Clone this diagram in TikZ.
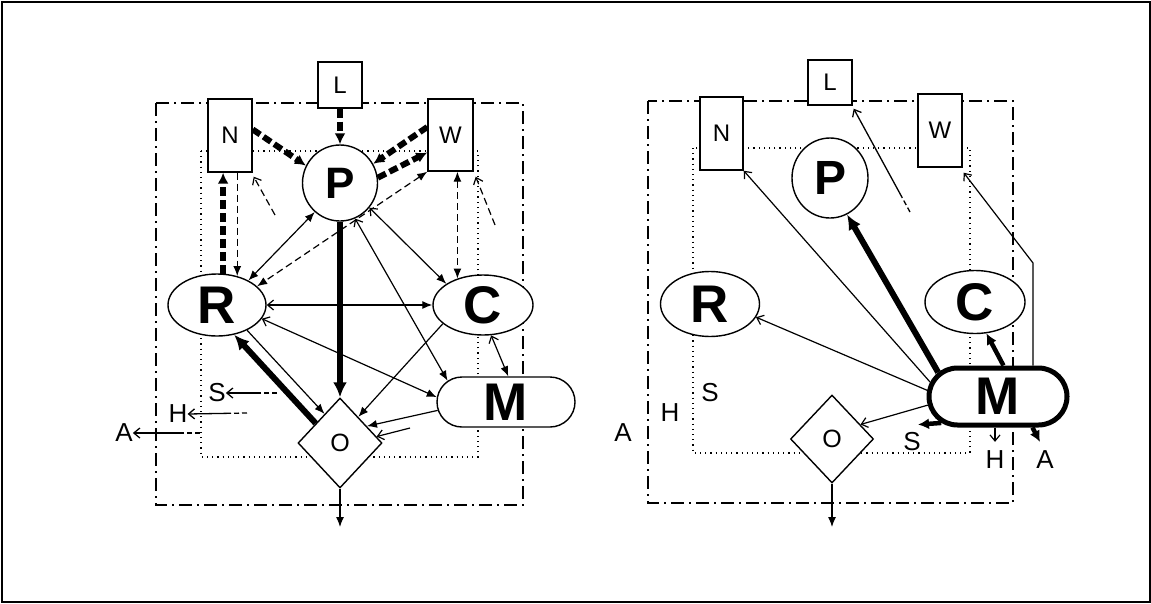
\documentclass[tikz,border=0pt]{standalone}
\usepackage{fontspec}
\setmainfont{Liberation Sans}
\usetikzlibrary{arrows.meta,shapes.geometric,shapes.misc,calc}
\tikzset{
  Fil/.tip={Latex[length=10pt,width=8pt]},
  Opn/.tip={Straight Barb[length=6pt,width=10pt]},
  Big/.tip={Latex[length=15pt,width=14pt]},
  Mid/.tip={Latex[length=11pt,width=11pt]},
  lbl/.style={inner sep=0pt, font=\fontsize{26}{26}\selectfont},
  rectbox/.style={draw, fill=white, line width=1.4pt, inner sep=0pt, font=\fontsize{24}{24}\selectfont},
  bigell/.style={draw, ellipse, fill=white, line width=1.4pt, inner sep=0pt, font=\bfseries\fontsize{53}{53}\selectfont},
  pill/.style={draw, rounded rectangle, fill=white, line width=1.4pt, inner sep=0pt, font=\bfseries\fontsize{53}{53}\selectfont},
  dmd/.style={draw, diamond, fill=white, line width=1.4pt, inner sep=0pt, font=\fontsize{25}{25}\selectfont},
  dashdot/.style={line width=1.3pt, dash pattern=on 13pt off 5pt on 2pt off 5pt},
  dotln/.style={line width=1.2pt, dash pattern=on 1.2pt off 4pt},
  fine/.style={line width=1.2pt},
  fdash/.style={line width=1.2pt, dash pattern=on 7pt off 4pt},
  heavy/.style={line width=6pt},
  hdash/.style={line width=6pt, dash pattern=on 9pt off 4pt},
  lead/.style={line width=1.3pt, dash pattern=on 5pt off 3pt on 5pt off 3pt on 200pt}
}
\begin{document}
\begin{tikzpicture}[x=1pt,y=-1pt]
\useasboundingbox (0,0) rectangle (1151,603);
\fill[white] (0,0) rectangle (1151,603);
\draw[line width=2pt] (1.5,1.5) rectangle (1149.5,601.5);

% ================= LEFT DIAGRAM =================
\draw[dashdot] (156,103) rectangle (523,505);
\draw[dotln] (201,151) rectangle (478,457);

\node[rectbox, minimum width=44pt, minimum height=46pt] (L1) at (340,85) {L};
\node[rectbox, minimum width=44pt, minimum height=73pt] (N1) at (230,135.5) {N};
\node[rectbox, minimum width=45pt, minimum height=72pt] (W1) at (450.5,135) {W};
\node[bigell, minimum width=75pt, minimum height=76pt, font=\bfseries\fontsize{44}{44}\selectfont] (P1) at (340,183) {P};
\node[bigell, minimum width=98pt, minimum height=62pt] (R1) at (217,305) {R};
\node[bigell, minimum width=100pt, minimum height=60pt] (C1) at (483,305) {C};
\node[pill, minimum width=138pt, minimum height=50pt] (M1) at (506,402) {M};
\node[dmd, minimum width=84pt, minimum height=90pt] (O1) at (340,443) {O};

\node[lbl] (S1) at (217,393) {S};
\node[lbl] (H1) at (178,414) {H};
\node[lbl] (A1) at (124,433) {A};

\coordinate (out1) at (340,527);
\coordinate (nfree) at (275,215);
\coordinate (wfree) at (495,225);
\coordinate (ofree) at (410,428);
\coordinate (sfrom) at (277,393);
\coordinate (hfrom) at (247,413);
\coordinate (afrom) at (200,433);

% heavy dashed
\draw[hdash,-Mid] (L1.south) -- (P1.north);
\draw[hdash,-Mid] (N1.15) -- (P1.153);
\draw[hdash,-Mid] (W1.161) -- (P1.30);
\draw[hdash,-Mid] (P1.8) -- (W1.217);
\draw[hdash,-Mid] (R1.79) -- (R1.79 |- N1.south);
% thin dashed
\draw[fdash,-Fil] (N1.south -| R1.55) -- (R1.55);
\draw[fdash,-Opn] (nfree) -- ([shift={(1,4)}]N1.south east);
\draw[fdash,-Opn] (wfree) -- ([shift={(2,5)}]W1.south east);
\draw[fdash,Fil-Fil] (W1.south west) -- (R1.25);
\draw[fdash,Fil-Fil] (C1.134 |- W1.south) -- (C1.134);
% thin solid
\draw[fine,Fil-Fil] (P1.229) -- (R1.38);
\draw[fine,Opn-Fil] (P1.-40) -- (C1.150);
\draw[fine,Opn-Fil] (P1.-67) -- (M1.160);
\draw[fine,Opn-Fil] (R1.east) -- (C1.west);
\draw[fine,Opn-Fil] (R1.-17) -- (M1.176);
\draw[fine,-Fil] (C1.205) -- (O1.55);
\draw[fine,-Fil] (M1.187) -- (O1.32);
\draw[fine,-Opn] (ofree) -- (O1.10);
\draw[fine,-Fil] (R1.-40) -- (O1.118);
\draw[fine,Opn-Fil] (C1.-75) -- (M1.85);
\draw[fine,-Fil] (O1.south) -- (out1);
% heavy solid
\draw[heavy,-Big] (P1.south) -- (O1.north);
\draw[heavy,-Big] (O1.141) -- (R1.-60);
% S H A leads
\draw[lead,-Opn] (sfrom) -- (S1.east);
\draw[lead,-Opn] (hfrom) -- (H1.east);
\draw[lead,-Opn] (afrom) -- (A1.east);

% ================= RIGHT DIAGRAM =================
\draw[dashdot] (648,101) rectangle (1013,503);
\draw[dotln] (693,148) rectangle (970,453);

\node[rectbox, minimum width=44pt, minimum height=45pt] (L2) at (830,82.5) {L};
\node[rectbox, minimum width=43pt, minimum height=73pt] (N2) at (721.5,133.5) {N};
\node[rectbox, minimum width=44pt, minimum height=73pt] (W2) at (940,130.5) {W};
\node[bigell, minimum width=76pt, minimum height=80pt, font=\bfseries\fontsize{48}{48}\selectfont] (P2) at (830,178) {P};
\node[bigell, minimum width=99pt, minimum height=65pt] (R2) at (710,304) {R};
\node[bigell, minimum width=100pt, minimum height=63pt] (C2) at (975,302) {C};
\node[pill, minimum width=138pt, minimum height=57pt, line width=5pt] (M2) at (998,396.5) {M};
\node[dmd, minimum width=83pt, minimum height=88pt] (O2) at (832,439) {O};

\node[lbl] (S2a) at (710,393) {S};
\node[lbl] (H2a) at (670,413) {H};
\node[lbl] (A2a) at (623,433) {A};
\node[lbl] (S2) at (912,442) {S};
\node[lbl] (H2) at (995,460) {H};
\node[lbl] (A2) at (1045,460) {A};

\coordinate (out2) at (832,527);
\coordinate (wb) at (1033,263);
\coordinate (lf) at (910,212);

\draw[fine,-Fil] (O2.south) -- (out2);
\draw[fine,-Opn] (M2.168) -- (N2.south east);
\draw[fine,-Opn] (M2.175) -- (R2.-16);
\draw[fine,-Opn] (M2.187) -- (O2.27);
\draw[fine,-Opn] (M2.north -| wb) -- (wb) -- ([shift={(1,5)}]W2.south east);
\draw[lead,-Opn] (lf) -- ([shift={(1,3)}]L2.south east);
\draw[fine,-Opn] ([xshift=-3pt]M2.south) -- ([shift={(0,-9)}]H2.north);
\draw[heavy,-Big] (M2.158) -- (P2.-65);
\draw[line width=4.5pt,-Mid] (M2.80) -- (C2.-70);
\draw[line width=4.5pt,-Mid] (M2.205) -- ([shift={(6,-8)}]S2.north);
\draw[line width=4.5pt,-Mid] (M2.-42) -- ([shift={(-5,-9)}]A2.north);
\end{tikzpicture}
\end{document}
